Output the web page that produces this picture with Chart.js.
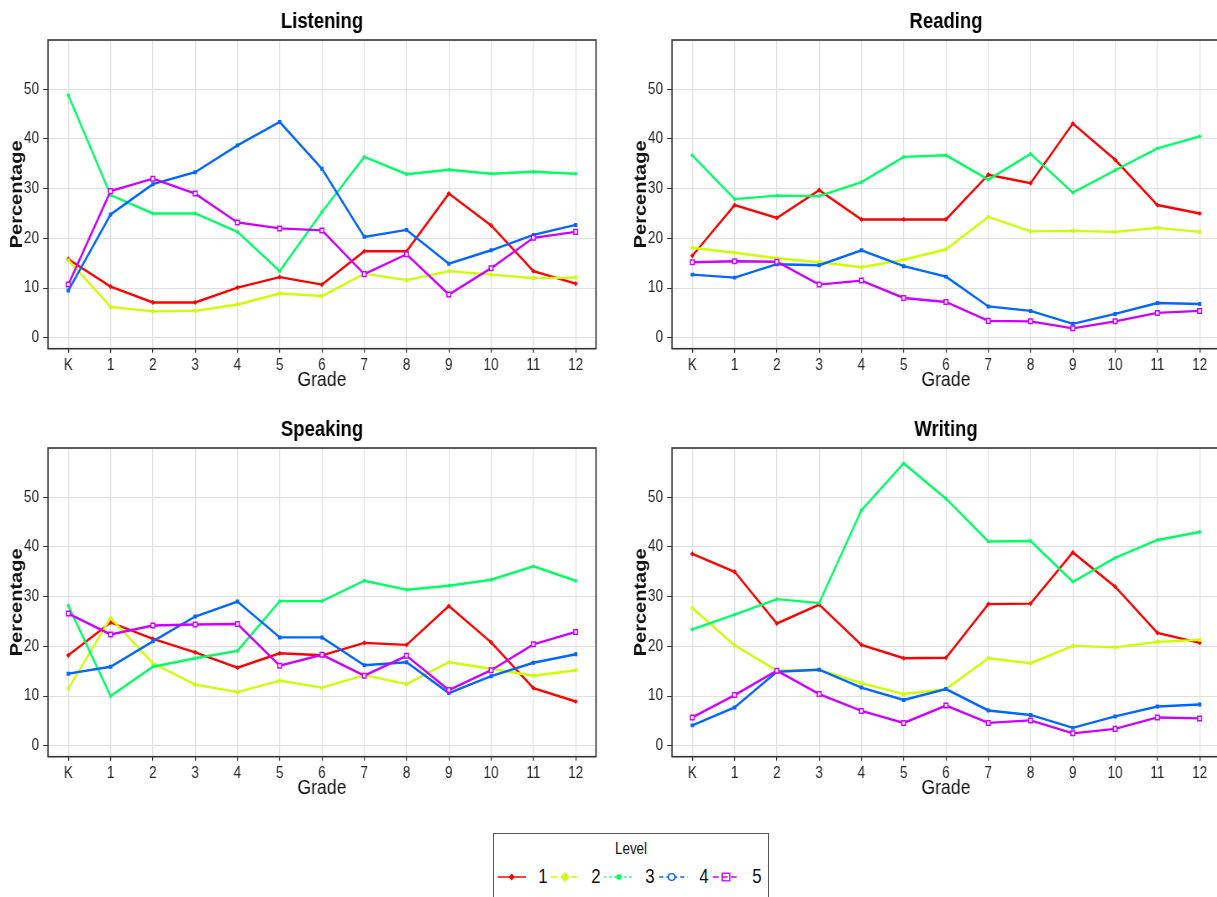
<!DOCTYPE html>
<html>
<head>
<meta charset="utf-8">
<script src="https://cdn.jsdelivr.net/npm/chart.js@4.4.1/dist/chart.umd.min.js"></script>
<style>
  html, body { margin: 0; padding: 0; background: #fff; width: 1217px; height: 897px; overflow: hidden; }
  canvas { position: absolute; }
  #legend { position: absolute; left: 493px; top: 833px; width: 276px; height: 80px; border: 1px solid #555; box-sizing: border-box;
            font-family: 'Liberation Sans', sans-serif; color: #111; }
  #legend .ttl { position: absolute; left: 0; width: 100%; top: 6px; text-align: center; font-size: 16px; transform: scaleX(0.84); }
  #legend .lab { position: absolute; top: 31px; font-size: 20px; transform: translateX(-50%) scaleX(0.84); }
  #legend svg { position: absolute; left: 0; top: 0; }
</style>
</head>
<body>
<!-- canvases are drawn wider and shown at 610px, the reference is squeezed horizontally -->
<canvas id="cListening" width="726" height="405" style="left:0px;top:0px;width:610px;height:405px"></canvas>
<canvas id="cReading" width="726" height="405" style="left:624px;top:0px;width:610px;height:405px"></canvas>
<canvas id="cSpeaking" width="726" height="405" style="left:0px;top:408px;width:610px;height:405px"></canvas>
<canvas id="cWriting" width="726" height="405" style="left:624px;top:408px;width:610px;height:405px"></canvas>

<div id="legend">
  <div class="ttl">Level</div>
  <svg width="276" height="80" id="legSvg"></svg>
</div>

<script>
// grades on the x axis, levels 1..5
const grades = ["K", "1", "2", "3", "4", "5", "6", "7", "8", "9", "10", "11", "12"];
const levels = ["1", "2", "3", "4", "5"];
const levelColors = ["#FF0000", "#CCFF00", "#00FF66", "#0066FF", "#CC00FF"];
const yTicks = [0, 10, 20, 30, 40, 50];

// percentages per level (rows = level 1..5)
const listening = [
  [15.8, 10.3, 7.1, 7.1, 10.1, 12.2, 10.7, 17.4, 17.4, 29.0, 22.6, 13.4, 10.9],
  [15.6, 6.2, 5.3, 5.4, 6.7, 8.9, 8.4, 12.9, 11.6, 13.4, 12.7, 12.0, 12.1],
  [48.8, 28.7, 25.0, 25.0, 21.3, 13.4, 25.3, 36.4, 32.9, 33.8, 33.0, 33.4, 33.0],
  [9.5, 24.8, 30.9, 33.3, 38.7, 43.4, 34.0, 20.3, 21.7, 14.9, 17.6, 20.7, 22.7],
  [10.7, 29.5, 32.0, 29.0, 23.2, 22.0, 21.6, 12.8, 16.8, 8.7, 14.0, 20.1, 21.3]
];
const reading = [
  [16.5, 26.7, 24.1, 29.7, 23.8, 23.8, 23.8, 32.8, 31.1, 43.1, 35.8, 26.7, 25.0],
  [18.1, 17.1, 16.0, 15.2, 14.2, 15.7, 17.8, 24.3, 21.4, 21.5, 21.3, 22.1, 21.3],
  [36.7, 27.9, 28.6, 28.5, 31.3, 36.4, 36.7, 31.8, 37.0, 29.2, 33.7, 38.1, 40.5],
  [12.7, 12.1, 14.8, 14.6, 17.6, 14.4, 12.3, 6.3, 5.4, 2.8, 4.8, 7.0, 6.8],
  [15.2, 15.4, 15.3, 10.7, 11.5, 8.0, 7.2, 3.4, 3.3, 1.9, 3.3, 5.0, 5.4]
];
const speaking = [
  [18.2, 24.8, 21.5, 18.8, 15.7, 18.6, 18.2, 20.7, 20.3, 28.1, 20.8, 11.6, 8.9],
  [11.5, 25.7, 16.6, 12.3, 10.8, 13.1, 11.7, 14.2, 12.4, 16.8, 15.5, 14.1, 15.2],
  [28.2, 10.0, 15.9, 17.6, 19.1, 29.1, 29.1, 33.2, 31.4, 32.2, 33.4, 36.1, 33.2],
  [14.5, 15.9, 21.0, 26.0, 29.0, 21.8, 21.8, 16.2, 16.8, 10.6, 14.0, 16.7, 18.4],
  [26.6, 22.4, 24.2, 24.4, 24.5, 16.1, 18.3, 14.1, 18.1, 11.2, 15.2, 20.4, 22.9]
];
const writing = [
  [38.6, 35.0, 24.6, 28.4, 20.3, 17.6, 17.7, 28.5, 28.6, 38.9, 32.0, 22.7, 20.7],
  [27.7, 20.2, 15.1, 15.3, 12.6, 10.4, 11.4, 17.6, 16.6, 20.1, 19.8, 20.9, 21.3],
  [23.4, 26.4, 29.5, 28.7, 47.4, 56.8, 49.7, 41.1, 41.2, 33.0, 37.8, 41.4, 43.0],
  [4.1, 7.7, 14.9, 15.3, 11.7, 9.2, 11.4, 7.1, 6.2, 3.6, 5.9, 7.9, 8.3],
  [5.7, 10.2, 15.1, 10.4, 7.0, 4.6, 8.1, 4.6, 5.1, 2.5, 3.4, 5.7, 5.5]
];

const sans = "'Liberation Sans', Arial, sans-serif";
const sx = 610 / 726; // horizontal squeeze
const pointStyles = ["rectRot", "rect", "circle", "rect", "rect"];
const pointSizes = [2.6, 2.6, 1.9, 2.8, 3.2];

// panel border drawn on top like ggplot
const panelBorder = {
  id: "panelBorder",
  afterDatasetsDraw(chart) {
    const { ctx, chartArea: a } = chart;
    ctx.save();
    ctx.strokeStyle = "#333";
    ctx.lineWidth = 1.6;
    ctx.strokeRect(a.left, a.top, a.right - a.left, a.bottom - a.top);
    ctx.restore();
  }
};

function makePanel(id, title, series) {
  const datasets = series.map((vals, k) => ({
    label: levels[k],
    data: vals.map((v, i) => ({ x: i, y: v })),
    borderColor: levelColors[k],
    backgroundColor: levelColors[k],
    borderWidth: 2.4,
    pointStyle: pointStyles[k],
    pointRadius: pointSizes[k],
    pointBackgroundColor: k === 4 ? "#fff" : levelColors[k],
    pointBorderColor: levelColors[k],
    pointBorderWidth: k === 4 ? 1.5 : 0,
    tension: 0,
    order: 4 - k
  }));

  return new Chart(document.getElementById(id), {
    type: "line",
    data: { datasets },
    plugins: [panelBorder],
    options: {
      responsive: false,
      animation: false,
      events: [],
      layout: { padding: { left: 0, right: 16.7, top: 0, bottom: 0 } },
      plugins: {
        legend: { display: false },
        tooltip: { enabled: false },
        title: {
          display: true, text: title, color: "#000", fullSize: false,
          font: { family: sans, size: 22, weight: "bold" },
          padding: { top: 8.5, bottom: 5.1 }
        }
      },
      scales: {
        x: {
          type: "linear", min: -0.48, max: 12.48,
          afterBuildTicks: s => { s.ticks = grades.map((g, i) => ({ value: i })); },
          afterFit: s => { s.height = 56.3; },
          ticks: { callback: v => grades[v], autoSkip: false, maxRotation: 0, color: "#222", padding: 3.5, font: { family: sans, size: 16 } },
          grid: { color: "#e0e0e0", lineWidth: 1.2, tickLength: 4, tickColor: "#333" },
          border: { display: false },
          title: { display: true, text: "Grade", color: "#111", font: { family: sans, size: 21 }, padding: { top: 0, bottom: 12.5 } }
        },
        y: {
          type: "linear", min: -2.2, max: 59.9,
          afterBuildTicks: s => { s.ticks = yTicks.map(v => ({ value: v })); },
          afterFit: s => { s.width = 48 / sx; },
          ticks: { color: "#222", padding: 4.8, font: { family: sans, size: 16 } },
          grid: { color: "#e0e0e0", lineWidth: 1, tickLength: 6, tickColor: "#333" },
          border: { display: false },
          title: { display: true, text: "Percentage", color: "#111", font: { family: sans, size: 20, weight: "bold" }, padding: { top: 8.8, bottom: 0 } }
        }
      }
    }
  });
}

makePanel("cListening", "Listening", listening);
makePanel("cReading", "Reading", reading);
makePanel("cSpeaking", "Speaking", speaking);
makePanel("cWriting", "Writing", writing);

// legend keys (line + symbol), positions relative to the legend box
const legendKeys = [
  { x1: 3.7, x2: 32, m: 17.7, lab: 48.7, dash: "" },
  { x1: 57, x2: 85.3, m: 71, lab: 102, dash: "6 4" },
  { x1: 110.3, x2: 140.3, m: 125, lab: 156.3, dash: "2 3" },
  { x1: 165.3, x2: 193.7, m: 177.7, lab: 209.7, dash: "4 3" },
  { x1: 218.7, x2: 245.3, m: 232, lab: 263, dash: "6 3" }
];
const svg = document.getElementById("legSvg");
const ky = 43;
let html = "";
legendKeys.forEach((k, i) => {
  const c = levelColors[i];
  html += `<line x1="${k.x1}" y1="${ky}" x2="${k.x2}" y2="${ky}" stroke="${c}" stroke-width="1.5" stroke-dasharray="${k.dash}"/>`;
  if (i === 0) html += `<path d="M${k.m} ${ky - 3.5} L${k.m + 3} ${ky} L${k.m} ${ky + 3.5} L${k.m - 3} ${ky} Z" fill="${c}"/>`;
  if (i === 1) html += `<path d="M${k.m} ${ky - 5} L${k.m + 4.5} ${ky} L${k.m} ${ky + 5} L${k.m - 4.5} ${ky} Z" fill="${c}"/>`;
  if (i === 2) html += `<circle cx="${k.m}" cy="${ky}" r="2.8" fill="${c}"/>`;
  if (i === 3) html += `<circle cx="${k.m}" cy="${ky}" r="3.3" fill="#fff" stroke="${c}" stroke-width="1.3"/>`;
  if (i === 4) html += `<rect x="${k.m - 3.8}" y="${ky - 3.8}" width="7.6" height="7.6" fill="none" stroke="${c}" stroke-width="1.3"/>`;
  const span = document.createElement("span");
  span.className = "lab";
  span.style.left = k.lab + "px";
  span.textContent = levels[i];
  document.getElementById("legend").appendChild(span);
});
svg.innerHTML = html;
</script>
</body>
</html>
